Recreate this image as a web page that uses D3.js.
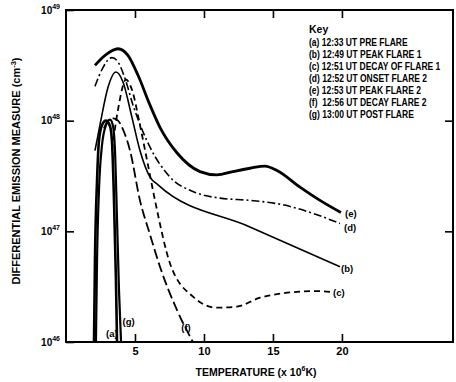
<!DOCTYPE html>
<html>
<head>
<meta charset="utf-8">
<script src="https://cdn.jsdelivr.net/npm/d3@7"></script>
<style>
  body { margin: 0; background: #fff; }
  text { font-family: "Liberation Sans", Arial, sans-serif; font-weight: bold; fill: #000; }
</style>
</head>
<body>
<div id="chart"></div>
<script>
// temperature in 10^6 K, emission measure as log10(cm^-3)
var curveA = [[2.03,46.00],[2.10,46.74],[2.25,47.46],[2.39,47.82],[2.61,47.96],[2.90,48.00],[3.19,47.95],[3.33,47.82],[3.48,47.28],[3.62,46.56],[3.70,46.00]];
var curveG = [[2.17,46.00],[2.25,46.74],[2.39,47.37],[2.61,47.78],[2.90,47.96],[3.19,48.01],[3.41,47.95],[3.55,47.73],[3.70,47.10],[3.84,46.47],[3.99,46.00]];
var curveB = [[2.10,47.73],[2.46,47.96],[3.04,48.30],[3.62,48.44],[4.13,48.35],[4.78,48.03],[5.36,47.73],[6.09,47.49],[6.67,47.42],[13.33,47.04],[19.86,46.68]];
var curveC = [[3.33,47.73],[3.77,48.10],[4.35,48.37],[4.78,48.28],[5.36,47.96],[5.94,47.60],[6.45,47.28],[7.54,46.71],[9.20,46.41],[10.94,46.31],[12.39,46.32],[14.06,46.40],[15.72,46.44],[18.19,46.46],[19.28,46.45]];
var curveD = [[2.10,48.31],[2.68,48.48],[3.33,48.57],[3.77,48.53],[4.28,48.38],[4.86,48.14],[5.51,47.92],[6.09,47.76],[7.54,47.49],[9.20,47.36],[11.16,47.30],[13.33,47.28],[15.72,47.24],[18.19,47.15],[19.86,47.07]];
var curveE = [[2.10,48.50],[2.83,48.59],[3.77,48.65],[4.49,48.59],[5.22,48.41],[6.09,48.14],[6.81,47.94],[8.04,47.71],[9.71,47.54],[10.94,47.51],[12.10,47.54],[13.33,47.57],[14.42,47.59],[15.29,47.55],[16.96,47.40],[18.41,47.28],[19.93,47.17]];
var curveF = [[2.75,47.93],[3.04,48.00],[3.41,48.02],[3.77,48.00],[4.20,47.90],[4.64,47.73],[5.36,47.28],[6.09,46.97],[6.81,46.68],[8.04,46.29],[9.20,46.00]];

var xTicks = [5, 10, 15, 20];
var yTicks = [46, 47, 48, 49];
var keyLines = ["(a) 12:33 UT PRE FLARE", "(b) 12:49 UT PEAK FLARE 1", "(c) 12:51 UT DECAY OF FLARE 1",
                "(d) 12:52 UT ONSET FLARE 2", "(e) 12:53 UT PEAK FLARE 2", "(f)  12:56 UT DECAY FLARE 2",
                "(g) 13:00 UT POST FLARE"];

var width = 456, height = 382;
var mLeft = 66, mRight = 453, mTop = 10, mBottom = 342;

var svg = d3.select("#chart").append("svg")
    .attr("width", width)
    .attr("height", height);

var x = d3.scaleLinear().domain([0, 28.05]).range([mLeft, mRight]);
var y = d3.scaleLinear().domain([46, 49]).range([mBottom, mTop]);

var line = d3.line()
    .x(function(d){return x(d[0])})
    .y(function(d){return y(d[1])})
    .curve(d3.curveMonotoneX);

var series = [
    {data: curveE, width: 2.8, dash: null},
    {data: curveD, width: 1.6, dash: "8,3,2,3"},
    {data: curveB, width: 1.6, dash: null},
    {data: curveC, width: 1.8, dash: "6,4"},
    {data: curveF, width: 1.8, dash: "10,4"},
    {data: curveA, width: 2.6, dash: null},
    {data: curveG, width: 2.2, dash: null}
];

series.forEach(function(s){
    svg.append("path")
        .attr("d", line(s.data))
        .attr("fill", "none")
        .attr("stroke", "#000")
        .attr("stroke-width", s.width)
        .attr("stroke-dasharray", s.dash);
});

// frame
svg.append("rect")
    .attr("x", mLeft).attr("y", mTop)
    .attr("width", mRight - mLeft).attr("height", mBottom - mTop)
    .attr("fill", "none").attr("stroke", "#000").attr("stroke-width", 2);

// axes, ticks pointing inwards
var xAxis = svg.append("g").attr("transform", "translate(0," + mBottom + ")")
    .call(d3.axisBottom(x).tickValues(xTicks).tickSize(-8).tickPadding(5));
svg.append("g").attr("transform", "translate(0," + mTop + ")")
    .call(d3.axisTop(x).tickValues(xTicks).tickSize(-8).tickFormat(""));
var yAxis = svg.append("g").attr("transform", "translate(" + mLeft + ",0)")
    .call(d3.axisLeft(y).tickValues(yTicks).tickSize(-8).tickPadding(6));
svg.append("g").attr("transform", "translate(" + mRight + ",0)")
    .call(d3.axisRight(y).tickValues([47, 48]).tickSize(-8).tickFormat(""));

svg.selectAll(".domain").remove();
svg.selectAll(".tick line").attr("stroke", "#000").attr("stroke-width", 1.6);
xAxis.selectAll("text").attr("font-size", 11).attr("font-family", null);
yAxis.selectAll(".tick text").attr("font-size", 10).attr("font-family", null)
    .each(function(d){
        var t = d3.select(this);
        t.text("10");
        t.append("tspan").attr("dy", -5).attr("font-size", 7).text(d);
    });

// axis titles
var xt = svg.append("text")
    .attr("x", 256).attr("y", 376)
    .attr("text-anchor", "middle").attr("font-size", 10.5)
    .text("TEMPERATURE (x 10");
xt.append("tspan").attr("dy", -5).attr("font-size", 7).text("6");
xt.append("tspan").attr("dy", 5).text("K)");

var yt = svg.append("text")
    .attr("transform", "translate(20,171) rotate(-90)")
    .attr("text-anchor", "middle").attr("font-size", 11)
    .text("DIFFERENTIAL EMISSION MEASURE (cm");
yt.append("tspan").attr("dy", -4.5).attr("font-size", 7.5).text("-3");
yt.append("tspan").attr("dy", 4.5).text(")");

// key (condensed look)
var kScale = 0.81;
svg.append("text").attr("x", 309).attr("y", 33).attr("font-size", 10.5).text("Key");
svg.selectAll(".key").data(keyLines).enter().append("text")
    .attr("class", "key")
    .attr("x", 309 / kScale)
    .attr("y", function(d, i){return 46 + i * 12})
    .attr("font-size", 10.5)
    .attr("transform", "scale(" + kScale + ",1)")
    .attr("xml:space", "preserve")
    .text(function(d){return d});

// curve labels
var curveLabels = [
    {t: "(e)", p: curveE[curveE.length - 1], dx: 4, dy: 4},
    {t: "(d)", p: curveD[curveD.length - 1], dx: 4, dy: 7},
    {t: "(b)", p: curveB[curveB.length - 1], dx: 1, dy: 5},
    {t: "(c)", p: curveC[curveC.length - 1], dx: 1, dy: 4},
    {t: "(f)", p: [8.5, 46.1], dx: -2, dy: 0},
    {t: "(a)", p: [2.9, 46.02], dx: 0, dy: -3},
    {t: "(g)", p: [4.1, 46.15], dx: 0, dy: 0}
];
curveLabels.forEach(function(c){
    svg.append("text")
        .attr("x", x(c.p[0]) + c.dx)
        .attr("y", y(c.p[1]) + c.dy)
        .attr("font-size", 9.5)
        .text(c.t);
});
</script>
</body>
</html>
